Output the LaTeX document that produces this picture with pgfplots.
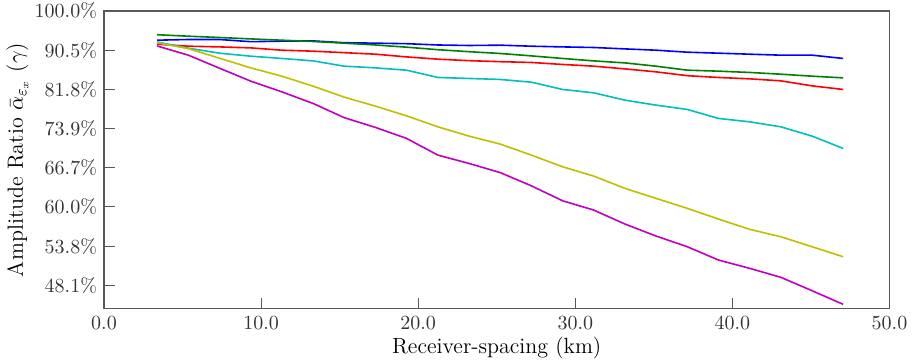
\documentclass[border=0pt]{standalone}
\usepackage{pgfplots}
\pgfplotsset{compat=1.18}
\definecolor{mplb}{rgb}{0,0,1}
\definecolor{mplg}{rgb}{0,0.5,0}
\definecolor{mplr}{rgb}{1,0,0}
\definecolor{mplc}{rgb}{0,0.75,0.75}
\definecolor{mply}{rgb}{0.75,0.75,0}
\definecolor{mplm}{rgb}{0.75,0,0.75}
\begin{document}
\begin{tikzpicture}
\begin{axis}[
  name=ax,
  at={(0,0)}, anchor=south west,
  scale only axis,
  width=392.75pt, height=148.85pt,
  xmin=0, xmax=50, ymin=-0.596, ymax=7,
  axis line style={black!65, line width=0.6pt},
  xtick={0,10,20,30,40,50},
  xticklabels={0.0,10.0,20.0,30.0,40.0,50.0},
  ytick={0,1,2,3,4,5,6,7},
  yticklabels={48.1\%,53.8\%,60.0\%,66.7\%,73.9\%,81.8\%,90.5\%,100.0\%},
  tick align=inside,
  xtick pos=bottom, ytick pos=left,
  major tick length=5.3pt,
  tick style={black!65, line width=0.5pt},
  ticklabel style={text=black!80},
  label style={font=\fontsize{11}{13}\selectfont},
  xlabel={Receiver-spacing (km)},
  ylabel={Amplitude Ratio $\bar{\alpha}_{\varepsilon_x}$ ($\gamma$)},
  xlabel style={at={(axis description cs:0.5,0)}, anchor=base, yshift=-22.6pt},
  ylabel style={at={(axis description cs:-0.1101,0.5)}, anchor=center},
  every axis plot/.append style={line width=0.8pt, mark=none},
]
% y values are in tick units: 0 = 48.1%, 1 = 53.8%, ..., 7 = 100.0%
\addplot[mplb] coordinates {(3.38,6.255)(5.37,6.273)(7.35,6.273)(9.34,6.217)(11.32,6.230)(13.31,6.237)(15.29,6.191)(17.28,6.179)(19.26,6.166)(21.25,6.133)(23.23,6.120)(25.22,6.128)(27.2,6.102)(29.19,6.084)(31.17,6.069)(33.16,6.033)(35.14,6.000)(37.13,5.949)(39.11,5.924)(41.1,5.898)(43.08,5.873)(45.07,5.873)(47.05,5.789)};
\addplot[mplg] coordinates {(3.38,6.395)(5.37,6.357)(7.35,6.324)(9.34,6.288)(11.32,6.255)(13.31,6.222)(15.29,6.179)(17.28,6.133)(19.26,6.077)(21.25,6.013)(23.23,5.962)(25.22,5.916)(27.2,5.855)(29.19,5.789)(31.17,5.727)(33.16,5.676)(35.14,5.592)(37.13,5.490)(39.11,5.465)(41.1,5.432)(43.08,5.388)(45.07,5.337)(47.05,5.294)};
\addplot[mplr] coordinates {(3.38,6.153)(5.37,6.102)(7.35,6.084)(9.34,6.059)(11.32,6.000)(13.31,5.975)(15.29,5.937)(17.28,5.898)(19.26,5.829)(21.25,5.771)(23.23,5.733)(25.22,5.707)(27.2,5.687)(29.19,5.636)(31.17,5.592)(33.16,5.523)(35.14,5.447)(37.13,5.350)(39.11,5.304)(41.1,5.269)(43.08,5.218)(45.07,5.090)(47.05,4.998)};
\addplot[mplc] coordinates {(3.38,6.209)(5.37,6.051)(7.35,5.924)(9.34,5.847)(11.32,5.789)(13.31,5.727)(15.29,5.592)(17.28,5.549)(19.26,5.490)(21.25,5.304)(23.23,5.279)(25.22,5.253)(27.2,5.184)(29.19,4.998)(31.17,4.912)(33.16,4.725)(35.14,4.598)(37.13,4.488)(39.11,4.259)(41.1,4.172)(43.08,4.045)(45.07,3.808)(47.05,3.494)};
\addplot[mply] coordinates {(3.38,6.191)(5.37,6.039)(7.35,5.796)(9.34,5.549)(11.32,5.337)(13.31,5.082)(15.29,4.802)(17.28,4.572)(19.26,4.325)(21.25,4.045)(23.23,3.808)(25.22,3.604)(27.2,3.323)(29.19,3.025)(31.17,2.788)(33.16,2.474)(35.14,2.219)(37.13,1.964)(39.11,1.691)(41.1,1.429)(43.08,1.240)(45.07,0.985)(47.05,0.730)};
\addplot[mplm] coordinates {(3.38,6.107)(5.37,5.873)(7.35,5.541)(9.34,5.210)(11.32,4.937)(13.31,4.641)(15.29,4.279)(17.28,4.029)(19.26,3.749)(21.25,3.323)(23.23,3.111)(25.22,2.877)(27.2,2.540)(29.19,2.158)(31.17,1.921)(33.16,1.564)(35.14,1.258)(37.13,0.985)(39.11,0.646)(41.1,0.434)(43.08,0.205)(45.07,-0.137)(47.05,-0.484)};
\end{axis}
\pgfresetboundingbox
\path[use as bounding box] (-52pt,-27.15pt) rectangle (404pt,154.35pt);
\end{tikzpicture}
\end{document}
